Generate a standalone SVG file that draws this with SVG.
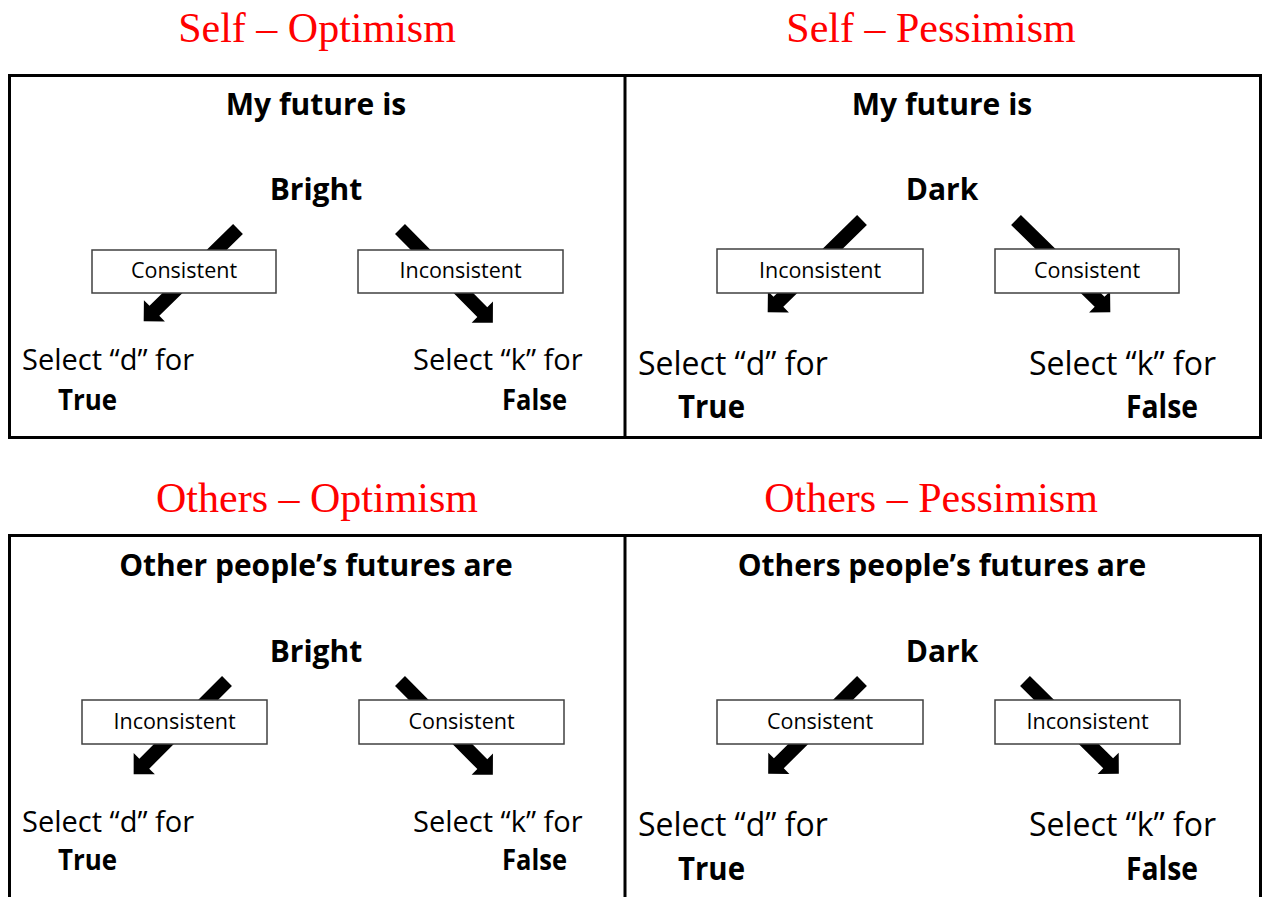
<svg xmlns="http://www.w3.org/2000/svg" xmlns:xlink="http://www.w3.org/1999/xlink" width="1267" height="897" viewBox="0 0 1267 897">
<style>
.title{font-family:"Liberation Serif","Times New Roman",serif;font-size:42px;fill:#ff0000;text-anchor:middle}
.panel{fill:none;stroke:#000;stroke-width:3}
.div{stroke:#000;stroke-width:3}
.head{font-family:"Open Sans","Liberation Sans",sans-serif;font-weight:bold;font-size:30px;fill:#000;text-anchor:middle}
.box rect{fill:#fff;stroke:#404040;stroke-width:1.5}
.box text{font-family:"Open Sans","Liberation Sans",sans-serif;font-size:21.5px;fill:#000;text-anchor:middle}
.sel{font-family:"Open Sans","Liberation Sans",sans-serif;font-size:29px;fill:#000}
.selB{font-family:"Open Sans","Liberation Sans",sans-serif;font-size:32px;fill:#000}
.ans{font-family:"Open Sans","Liberation Sans",sans-serif;font-weight:bold;font-size:29px;fill:#000}
.ansB{font-family:"Open Sans","Liberation Sans",sans-serif;font-weight:bold;font-size:32px;fill:#000}
.arrow{fill:#000}
</style>
<defs>
<path id="arr" d="M0,-7 L117,-7 L117,-15 L132,0 L117,15 L117,7 L0,7 Z"/>
</defs>
<rect width="1267" height="897" fill="#fff"/>

<g id="titles">
<text class="title" x="317" y="42">Self – Optimism</text>
<text class="title" x="931" y="42">Self – Pessimism</text>
<text class="title" x="317" y="512">Others – Optimism</text>
<text class="title" x="931" y="512">Others – Pessimism</text>
</g>

<g id="frames">
<rect class="panel" x="9.5" y="75.5" width="1251" height="362"/>
<line class="div" x1="625" y1="75" x2="625" y2="438"/>
<rect class="panel" x="9.5" y="535.5" width="1251" height="380"/>
<line class="div" x1="625" y1="535" x2="625" y2="897"/>
</g>

<g id="connectors" class="arrow">
<use xlink:href="#arr" href="#arr" transform="translate(238,229) rotate(135.6)"/>
<use xlink:href="#arr" href="#arr" transform="translate(400,229) rotate(45.3)"/>
<use xlink:href="#arr" href="#arr" transform="translate(862,220) rotate(135.6)"/>
<use xlink:href="#arr" href="#arr" transform="translate(1016,220) rotate(44.4)"/>
<use xlink:href="#arr" href="#arr" transform="translate(227,681) rotate(135)"/>
<use xlink:href="#arr" href="#arr" transform="translate(400,681) rotate(45.3)"/>
<use xlink:href="#arr" href="#arr" transform="translate(862,681) rotate(135.3)"/>
<use xlink:href="#arr" href="#arr" transform="translate(1025,681) rotate(44.7)"/>
</g>

<!-- Top-left: Self Optimism -->
<g id="so-header"><text class="head" x="316" y="115">My future is</text></g>
<g id="so-stim"><text class="head" x="316" y="200">Bright</text></g>
<g id="so-left" class="box"><rect x="92" y="250" width="184" height="43"/><text x="184" y="278">Consistent</text></g>
<g id="so-right" class="box"><rect x="358" y="250" width="205" height="43"/><text x="460.5" y="278">Inconsistent</text></g>
<g id="so-d"><text class="sel" x="22" y="370">Select “d” for</text><text class="ans" x="58" y="410" textLength="59" lengthAdjust="spacingAndGlyphs">True</text></g>
<g id="so-k"><text class="sel" x="413" y="370">Select “k” for</text><text class="ans" x="502" y="410" textLength="65" lengthAdjust="spacingAndGlyphs">False</text></g>

<!-- Top-right: Self Pessimism -->
<g id="sp-header"><text class="head" x="942" y="115">My future is</text></g>
<g id="sp-stim"><text class="head" x="942" y="200">Dark</text></g>
<g id="sp-left" class="box"><rect x="717" y="249" width="206" height="44"/><text x="820" y="278">Inconsistent</text></g>
<g id="sp-right" class="box"><rect x="995" y="249" width="184" height="44"/><text x="1087" y="278">Consistent</text></g>
<g id="sp-d"><text class="selB" x="638" y="375">Select “d” for</text><text class="ansB" x="678" y="418" textLength="67" lengthAdjust="spacingAndGlyphs">True</text></g>
<g id="sp-k"><text class="selB" x="1029" y="375">Select “k” for</text><text class="ansB" x="1126" y="418" textLength="72" lengthAdjust="spacingAndGlyphs">False</text></g>

<!-- Bottom-left: Others Optimism -->
<g id="oo-header"><text class="head" x="316" y="576">Other people’s futures are</text></g>
<g id="oo-stim"><text class="head" x="316" y="662">Bright</text></g>
<g id="oo-left" class="box"><rect x="82" y="700" width="185" height="44"/><text x="174.5" y="729">Inconsistent</text></g>
<g id="oo-right" class="box"><rect x="359" y="700" width="205" height="44"/><text x="461.5" y="729">Consistent</text></g>
<g id="oo-d"><text class="sel" x="22" y="832">Select “d” for</text><text class="ans" x="58" y="870" textLength="59" lengthAdjust="spacingAndGlyphs">True</text></g>
<g id="oo-k"><text class="sel" x="413" y="832">Select “k” for</text><text class="ans" x="502" y="870" textLength="65" lengthAdjust="spacingAndGlyphs">False</text></g>

<!-- Bottom-right: Others Pessimism -->
<g id="op-header"><text class="head" x="942" y="576">Others people’s futures are</text></g>
<g id="op-stim"><text class="head" x="942" y="662">Dark</text></g>
<g id="op-left" class="box"><rect x="717" y="700" width="206" height="44"/><text x="820" y="729">Consistent</text></g>
<g id="op-right" class="box"><rect x="995" y="700" width="185" height="44"/><text x="1087.5" y="729">Inconsistent</text></g>
<g id="op-d"><text class="selB" x="638" y="836">Select “d” for</text><text class="ansB" x="678" y="880" textLength="67" lengthAdjust="spacingAndGlyphs">True</text></g>
<g id="op-k"><text class="selB" x="1029" y="836">Select “k” for</text><text class="ansB" x="1126" y="880" textLength="72" lengthAdjust="spacingAndGlyphs">False</text></g>
</svg>
